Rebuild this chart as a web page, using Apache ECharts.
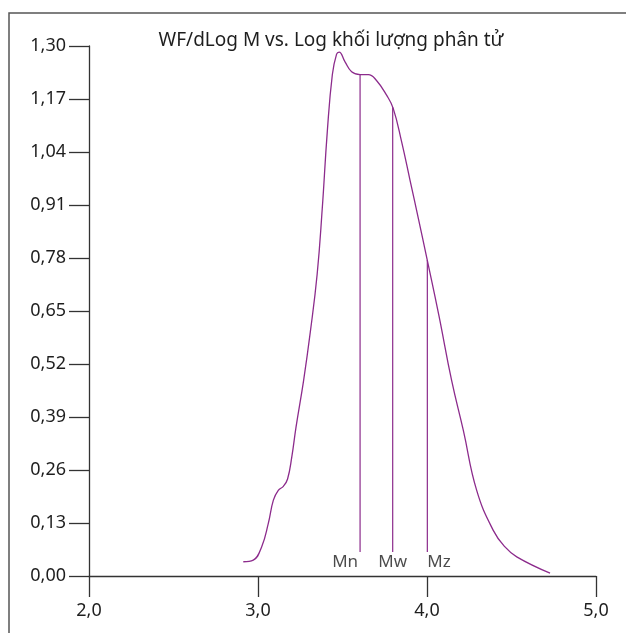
<!DOCTYPE html>
<html>
<head>
<meta charset="utf-8">
<script src="https://cdn.jsdelivr.net/npm/echarts@6/dist/echarts.min.js"></script>
<style>
  html, body { margin: 0; padding: 0; background: #fff; }
  #chart { width: 626px; height: 633px; }
</style>
</head>
<body>
<div id="chart"></div>
<script>
// đường phân bố khối lượng phân tử (Log M, WF/dLog M)
var logM = [2.913, 2.972, 3.022, 3.061, 3.091, 3.120, 3.150, 3.175, 3.200, 3.225,
            3.270, 3.310, 3.350, 3.380, 3.410, 3.440, 3.465, 3.480, 3.515, 3.554,
            3.604, 3.653, 3.700, 3.760, 3.800, 3.850, 3.900, 3.950, 4.000, 4.070,
            4.146, 4.215, 4.294, 4.392, 4.460, 4.531, 4.728];
var wf = [0.035, 0.039, 0.072, 0.129, 0.186, 0.210, 0.220, 0.238, 0.292, 0.365,
          0.480, 0.600, 0.740, 0.900, 1.090, 1.230, 1.280, 1.285, 1.261, 1.237,
          1.230, 1.230, 1.216, 1.180, 1.147, 1.065, 0.970, 0.875, 0.778, 0.640,
          0.479, 0.357, 0.210, 0.112, 0.072, 0.047, 0.007];

// các giá trị trung bình Mn, Mw, Mz
var markNames = ['Mn', 'Mw', 'Mz'];
var markX = [3.604, 3.797, 4.002];
var markTop = [1.230, 1.150, 0.775];
var markBottom = 0.059;
var markLabelY = 0.034;

var yTicks = [0, 0.13, 0.26, 0.39, 0.52, 0.65, 0.78, 0.91, 1.04, 1.17, 1.30];
var xTicks = [2.0, 3.0, 4.0, 5.0];

var purple = '#8c2b8c';
var axisColor = '#333333';
var textColor = '#1e1e1e';
var font = 'Noto Sans';

var curve = [];
for (var i = 0; i < logM.length; i++) {
    curve.push([logM[i], wf[i]]);
}

var series = [{
    type: 'line',
    data: curve,
    smooth: 0.45,
    showSymbol: false,
    lineStyle: { color: purple, width: 1.3 },
    silent: true
}];

var aligns = ['left', 'inside', 'right'];
for (var k = 0; k < markNames.length; k++) {
    series.push({
        type: 'line',
        data: [[markX[k], markBottom], [markX[k], markTop[k]]],
        showSymbol: false,
        lineStyle: { color: purple, width: 1.2 },
        silent: true
    });
    series.push({
        type: 'scatter',
        data: [[markX[k], markLabelY]],
        symbol: 'rect',
        symbolSize: 0,
        itemStyle: { color: textColor },
        label: {
            show: true,
            formatter: markNames[k],
            position: aligns[k],
            distance: k === 0 ? 2 : 0,
            color: textColor,
            fontFamily: font,
            fontSize: 17
        },
        silent: true
    });
}

var chart = echarts.init(document.getElementById('chart'));
var option = {
    animation: false,
    backgroundColor: '#fff',
    title: {
        text: 'WF/dLog M vs. Log khối lượng phân tử',
        left: 326,
        textAlign: 'center',
        top: 26,
        textStyle: { fontFamily: font, fontSize: 19, fontWeight: 'normal', color: textColor }
    },
    graphic: [{
        type: 'rect',
        shape: { x: 9, y: 13, width: 700, height: 700 },
        style: { fill: 'none', stroke: '#555', lineWidth: 1.5 },
        silent: true
    }],
    grid: { left: 89, right: 30, top: 46, bottom: 57 },
    xAxis: {
        type: 'value',
        min: xTicks[0],
        max: xTicks[xTicks.length - 1],
        interval: 1,
        axisLine: { lineStyle: { color: axisColor, width: 1.3 } },
        axisTick: { show: true, length: 21, lineStyle: { color: axisColor, width: 1.3 } },
        axisLabel: {
            margin: 26,
            color: textColor,
            fontFamily: font,
            fontSize: 18,
            formatter: function (v) { return v.toFixed(1).replace('.', ','); }
        },
        splitLine: { show: false }
    },
    yAxis: {
        type: 'value',
        min: yTicks[0],
        max: yTicks[yTicks.length - 1],
        interval: 0.13,
        axisLine: { show: true, lineStyle: { color: axisColor, width: 1.3 } },
        axisTick: { show: true, length: 20, lineStyle: { color: axisColor, width: 1.3 } },
        axisLabel: {
            margin: 23,
            color: textColor,
            fontFamily: font,
            fontSize: 18,
            formatter: function (v) { return v.toFixed(2).replace('.', ','); }
        },
        splitLine: { show: false }
    },
    series: series
};
chart.setOption(option);
</script>
</body>
</html>
